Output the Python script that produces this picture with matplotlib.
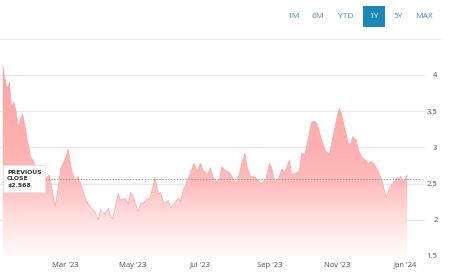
import numpy as np
import pandas as pd
import matplotlib
matplotlib.use('Agg')
import matplotlib.pyplot as plt
from matplotlib.patches import Rectangle
from matplotlib.lines import Line2D

# day offsets from 2023-01-01 and closing price
days = [3, 5, 7, 9, 10, 11, 13, 15, 17, 19, 21, 23, 25, 27, 28, 31, 34, 36, 39, 42,
        45, 47, 50, 53, 55, 58, 60, 62, 64, 65, 68, 71, 73, 77, 80, 82, 86, 89, 91, 93,
        95, 98, 100, 102, 104, 107, 109, 113, 116, 118, 120, 122, 125, 127, 130, 133, 135, 138, 140, 143,
        145, 148, 152, 154, 157, 161, 163, 166, 170, 172, 175, 178, 181, 183, 187, 190, 192, 195, 198, 200,
        204, 207, 209, 213, 216, 218, 221, 223, 226, 230, 234, 236, 240, 243, 245, 248, 252, 254, 257, 261,
        263, 266, 270, 272, 275, 279, 281, 284, 286, 288, 290, 293, 297, 299, 302, 305, 306, 308, 311, 314,
        316, 318, 321, 323, 326, 329, 332, 334, 336, 340, 343, 345, 348, 350, 351, 354, 358, 360, 361, 363,
        365, 367]
price = [4.12, 3.95, 3.80, 3.90, 3.70, 3.56, 3.62, 3.50, 3.28, 3.40, 3.46, 3.30, 3.10, 2.96, 2.87, 2.80, 2.70, 2.75, 2.62, 2.58,
         2.62, 2.45, 2.18, 2.45, 2.70, 2.80, 2.88, 2.98, 2.75, 2.68, 2.55, 2.60, 2.50, 2.31, 2.22, 2.18, 2.10, 2.00, 2.14, 2.10,
         2.08, 2.16, 2.04, 2.02, 2.16, 2.36, 2.27, 2.30, 2.22, 2.38, 2.34, 2.24, 2.12, 2.22, 2.24, 2.30, 2.28, 2.45, 2.58, 2.36,
         2.38, 2.22, 2.27, 2.16, 2.22, 2.30, 2.26, 2.43, 2.58, 2.65, 2.78, 2.68, 2.78, 2.70, 2.62, 2.72, 2.60, 2.52, 2.55, 2.73,
         2.68, 2.65, 2.60, 2.50, 2.64, 2.78, 2.92, 2.72, 2.60, 2.59, 2.52, 2.50, 2.57, 2.78, 2.72, 2.52, 2.59, 2.70, 2.66, 2.83,
         2.62, 2.64, 2.68, 2.92, 2.90, 3.20, 3.35, 3.36, 3.32, 3.21, 3.10, 2.96, 2.90, 3.06, 3.28, 3.50, 3.54, 3.45, 3.25, 3.06,
         3.04, 3.15, 3.10, 2.96, 2.87, 2.83, 2.78, 2.80, 2.80, 2.70, 2.59, 2.50, 2.31, 2.38, 2.45, 2.50, 2.58, 2.57, 2.60, 2.52,
         2.55, 2.62]
prev_close = 2.568
y_ticks = [1.5, 2, 2.5, 3, 3.5, 4]
y_labels = ['1.5', '2', '2.5', '3', '3.5', '4']
x_tick_dates = ['2023-03-01', '2023-05-01', '2023-07-01', '2023-09-01', '2023-11-01', '2024-01-01']
x_labels = ["Mar '23", "May '23", "Jul '23", "Sep '23", "Nov '23", "Jan '24"]
ranges = ['1M', '6M', 'YTD', '1Y', '5Y', 'MAX']
selected = '1Y'

W, H = 450, 273
fig = plt.figure(figsize=(W / 100, H / 100), dpi=100)
ax = fig.add_axes([0 / W, (H - 256) / H, 425 / W, 206 / H])

x = np.array(days, dtype=float)
y = np.array(price)
xmin, xmax = 0.5, 383
ymin, ymax = 1.5, 4.345

# gradient fill under the curve
stops_v = [1.5, 2.0, 2.5, 3.0, 4.3]
stops_g = [0.985, 0.88, 0.74, 0.69, 0.63]
rows = np.linspace(ymax, ymin, 300)
g = np.interp(rows, stops_v, stops_g)
img = np.zeros((300, 2, 3))
img[:, :, 0] = 1.0
img[:, :, 1] = g[:, None]
img[:, :, 2] = g[:, None]
poly = ax.fill_between(x, y, ymin, color='none', lw=0)
im = ax.imshow(img, extent=[xmin, xmax, ymin, ymax], aspect='auto', zorder=1,
               interpolation='bilinear')
path = poly.get_paths()[0]
im.set_clip_path(path, transform=ax.transData)
ax.plot(x, y, color='#ffa6a6', lw=0.5, zorder=2)

for t in y_ticks:
    ax.axhline(t, color='#e8e8e8', lw=0.8, zorder=0)
ax.axhline(prev_close, xmin=45 / 425, xmax=422 / 425, color='#999999', lw=0.7,
           ls=(0, (1.5, 1.5)), zorder=3)

ax.set_xlim(xmin, xmax)
ax.set_ylim(ymin, ymax)
for s in ax.spines.values():
    s.set_visible(False)

base = pd.Timestamp('2023-01-01')
xt = [(pd.Timestamp(d) - base).days for d in x_tick_dates]
ax.set_xticks(xt)
ax.set_xticklabels(x_labels, fontsize=5.5, color='#555555', family='Open Sans')
ax.tick_params(axis='x', length=0, pad=4)
ax.yaxis.tick_right()
ax.set_yticks(y_ticks)
ax.set_yticklabels(y_labels, fontsize=5.5, color='#555555', family='Open Sans', ha='right')
ax.tick_params(axis='y', length=0, pad=9)

# previous close box
fig.add_artist(Rectangle((3 / W, (H - 192) / H), 42 / W, 27 / H, transform=fig.transFigure,
                         facecolor='white', edgecolor='#e2e2e2', lw=0.6, zorder=5))
for i, line in enumerate(['PREVIOUS', 'CLOSE', '$' + str(prev_close)]):
    fig.text(7 / W, (H - 172 - i * 7) / H, line, fontsize=4.4, color='#333333',
             fontweight='bold', va='center', ha='left', zorder=6)

# range selector
bx = [293, 318, 346, 374, 398, 424]
for label, cx in zip(ranges, bx):
    if label == selected:
        fig.add_artist(Rectangle(((cx - 11) / W, (H - 27) / H), 22 / W, 21 / H,
                                 transform=fig.transFigure, facecolor='#1b87b8', lw=0))
        c = 'white'
    else:
        c = '#3d95c3'
    fig.text(cx / W, (H - 16) / H, label, fontsize=6, color=c, ha='center', va='center',
             family='Open Sans')
fig.add_artist(Line2D([0, 440 / W], [(H - 39) / H] * 2, transform=fig.transFigure,
                      color='#ebebeb', lw=0.8))

fig.savefig('out.png', dpi=100)
